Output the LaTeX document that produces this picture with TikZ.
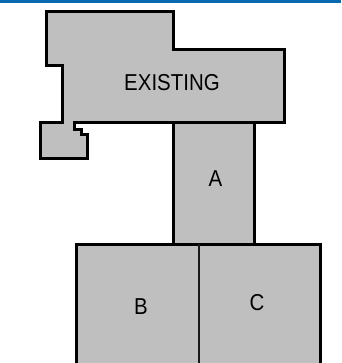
\documentclass[tikz,border=0pt]{standalone}
\usepackage{graphicx}
\usepackage{fontspec}
\setmainfont{Liberation Sans}
\definecolor{massfill}{HTML}{BFBFBF}
\definecolor{topbar}{HTML}{0868B0}
\newcommand{\lbltext}[1]{\scalebox{0.89}[1]{#1}}
\tikzset{
  mass/.style={fill=massfill,draw=black,line width=3pt,line join=miter},
  divider/.style={draw=black!90,line width=1.7pt},
  lbl/.style={inner sep=0pt,font=\fontsize{23pt}{25pt}\selectfont,text=black}
}
\begin{document}
\begin{tikzpicture}[x=1pt,y=-1pt]
\useasboundingbox (0,0) rectangle (341,363);
\fill[white] (0,0) rectangle (341,363);
\fill[topbar] (0,0) rectangle (341,2.6);
% existing building
\draw[mass] (46,12) -- (173,12) -- (173,50) -- (284.5,50) -- (284.5,123) -- (74.3,123)
  -- (74.3,129.3) -- (81,129.3) -- (81,134.5) -- (87.7,134.5) -- (87.7,159) -- (40.7,159)
  -- (40.7,123) -- (62.3,123) -- (62.3,66) -- (46,66) -- cycle;
% A
\draw[mass] (173,123) rectangle (254.7,244);
% B and C, open at the page bottom
\fill[massfill] (76.7,244) rectangle (320.7,363);
\draw[mass,fill=none] (76.7,364) -- (76.7,244) -- (320.7,244) -- (320.7,364);
\draw[divider] (198.7,244) -- (198.7,363);
\node[lbl] (existing) at (172,83) {\lbltext{EXISTING}};
\node[lbl] (a) at (215.5,178.5) {\lbltext{A}};
\node[lbl] (b) at (141,307) {\lbltext{B}};
\node[lbl] (c) at (257,303) {\lbltext{C}};
\end{tikzpicture}
\end{document}
